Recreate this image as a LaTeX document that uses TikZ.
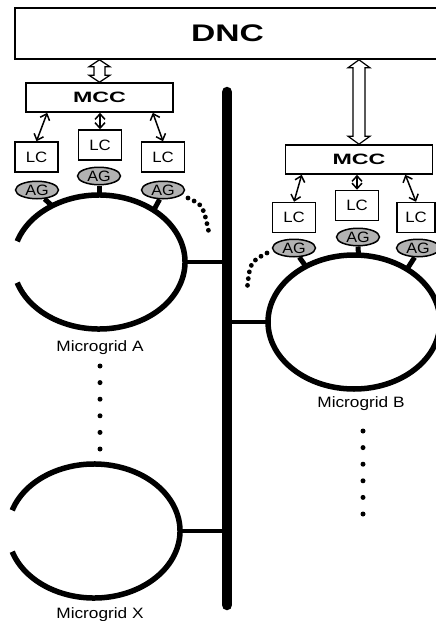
\documentclass[tikz,border=0pt]{standalone}
\usepackage{fontspec}
\setmainfont{Liberation Sans}
\usetikzlibrary{arrows.meta, shapes.geometric, calc}

\begin{document}
\begin{tikzpicture}[x=1pt, y=-1pt]
% cadre de l'image
\useasboundingbox (0,0) rectangle (436,621);
\clip (0,0) rectangle (436,621);

% définition des styles
\tikzstyle{grand}=[rectangle, draw=black, fill=white, line width=1.6pt, inner sep=0pt, font=\fontsize{24}{26}\selectfont\bfseries]
\tikzstyle{centrale}=[rectangle, draw=black, fill=white, line width=1.6pt, minimum width=147pt, minimum height=29pt, inner sep=0pt, font=\fontsize{15}{17}\selectfont\bfseries]
\tikzstyle{local}=[rectangle, draw=black, fill=white, line width=1.5pt, minimum width=43pt, minimum height=30pt, inner sep=0pt, font=\fontsize{15}{17}\selectfont]
\tikzstyle{agent}=[ellipse, draw=black, fill=black!30, line width=1.5pt, minimum width=43pt, minimum height=17.5pt, inner sep=0pt, font=\fontsize{15}{17}\selectfont]
\tikzstyle{nom}=[inner sep=0pt, anchor=base, font=\fontsize{15}{17}\selectfont]
\tikzstyle{lien}=[{Straight Barb[length=5.5pt, width=10pt]}-{Straight Barb[length=5.5pt, width=10pt]}, line width=1.5pt]
\tikzstyle{creux}=[draw=black, fill=white, line width=1.2pt, line join=miter]
\tikzstyle{bus}=[line width=10.5pt, line cap=round]
\tikzstyle{reseau}=[line width=5.5pt]
\tikzstyle{branche}=[line width=4pt]
\tikzstyle{pied}=[line width=5pt]
\tikzstyle{suite}=[line width=5pt, line cap=round, dash pattern=on 0pt off 16.6pt]
\tikzstyle{suitecourbe}=[line width=4.8pt, line cap=round, dash pattern=on 0pt off 6.8pt]

% les points de repère
\coordinate (cA) at (99,262);
\coordinate (cB) at (354,322);
\coordinate (cX) at (94,531);
\coordinate (bushaut) at (227,92);
\coordinate (busbas) at (227,605);

% les micro-réseaux
\draw[reseau] ($(cA)+(-162:86 and 67)$) arc[start angle=-162, end angle=162, x radius=86, y radius=67];
\draw[reseau] (cB) ellipse [x radius=86, y radius=67];
\draw[reseau] ($(cX)+(-162:86 and 67)$) arc[start angle=-162, end angle=162, x radius=86, y radius=67];

% le bus
\draw[branche] ($(cA)+(86,0)$) -- (cA -| bushaut);
\draw[branche] (cB -| bushaut) -- ($(cB)+(-86,0)$);
\draw[branche] ($(cX)+(86,0)$) -- (cX -| bushaut);
\draw[bus] (bushaut) -- (busbas);

% les nœuds
\node[grand, minimum width=425pt, minimum height=51pt] (DNC) at (227.5,33.5) {\scalebox{1.4}[1]{DNC}};
\node[centrale] (MCCA) at (99.5,97.5) {\scalebox{1.55}[1]{MCC}};
\node[centrale] (MCCB) at (359,159.5) {\scalebox{1.55}[1]{MCC}};

\node[local] (LCA1) at (36.5,157) {\scalebox{1.12}[1]{LC}};
\node[local] (LCA2) at (100,145) {\scalebox{1.12}[1]{LC}};
\node[local] (LCA3) at (163,157) {\scalebox{1.12}[1]{LC}};
\node[local] (LCB1) at (294,217.5) {\scalebox{1.12}[1]{LC}};
\node[local] (LCB2) at (357,205.5) {\scalebox{1.12}[1]{LC}};
\node[local, minimum width=38pt] (LCB3) at (416,217.5) {\scalebox{1.12}[1]{LC}};

\node[agent] (AGA1) at (37,190) {\scalebox{1.08}[1]{AG}};
\node[agent] (AGA2) at (99,176) {\scalebox{1.08}[1]{AG}};
\node[agent] (AGA3) at (163,190) {\scalebox{1.08}[1]{AG}};
\node[agent] (AGB1) at (294,248) {\scalebox{1.08}[1]{AG}};
\node[agent] (AGB2) at (358,237) {\scalebox{1.08}[1]{AG}};
\node[agent] (AGB3) at (418,248) {\scalebox{1.08}[1]{AG}};

\node[nom] (NA) at (100,351) {\scalebox{1.15}[1]{Microgrid A}};
\node[nom] (NB) at (361,407) {\scalebox{1.15}[1]{Microgrid B}};
\node[nom] (NX) at (100,618) {\scalebox{1.15}[1]{Microgrid X}};

% les pieds des agents
\draw[pied] (AGA1.-50) -- ($(cA)+(-123:86 and 67)$);
\draw[pied] (AGA2.south) -- ($(cA)+(-90:86 and 67)$);
\draw[pied] (AGA3.-110) -- ($(cA)+(-50.5:86 and 67)$);
\draw[pied] (AGB1.-60) -- ($(cB)+(-124:86 and 67)$);
\draw[pied] (AGB2.south) -- ($(cB)+(-87:86 and 67)$);
\draw[pied] (AGB3.-110) -- ($(cB)+(-52:86 and 67)$);

% les flèches creuses
\coordinate (hA1) at (DNC.south -| MCCA.north);
\coordinate (hA2) at (MCCA.north);
\draw[creux] ($(hA1)+(-5.5,7)$) -- ($(hA1)+(-10.5,7)$) -- (hA1) -- ($(hA1)+(10.5,7)$) -- ($(hA1)+(5.5,7)$)
  -- ($(hA2)+(5.5,-7)$) -- ($(hA2)+(10.5,-7)$) -- (hA2) -- ($(hA2)+(-10.5,-7)$) -- ($(hA2)+(-5.5,-7)$) -- cycle;
\coordinate (hB1) at (DNC.south -| MCCB.north);
\coordinate (hB2) at (MCCB.north);
\draw[creux] ($(hB1)+(-6,8)$) -- ($(hB1)+(-11,8)$) -- (hB1) -- ($(hB1)+(11,8)$) -- ($(hB1)+(6,8)$)
  -- ($(hB2)+(6,-8)$) -- ($(hB2)+(11,-8)$) -- (hB2) -- ($(hB2)+(-11,-8)$) -- ($(hB2)+(-6,-8)$) -- cycle;

% les flèches
\draw[lien] ($(MCCA.south west)+(22,0)$) -- (LCA1.north);
\draw[lien] (MCCA.south -| LCA2.north) -- (LCA2.north);
\draw[lien] ($(MCCA.south east)+(-21,0)$) -- (LCA3.north);
\draw[lien] ($(MCCB.south west)+(17,0)$) -- (LCB1.north);
\draw[lien] (MCCB.south -| LCB2.north) -- (LCB2.north);
\draw[lien] ($(MCCB.south east)+(-28,0)$) -- (LCB3.north);

% les pointillés
\draw[suitecourbe] (188,198) .. controls (203,205) .. (209,233);
\draw[suitecourbe] (267,253) .. controls (250,262) .. (247,290);
\draw[suite] (100,366) -- (100,449.5);
\draw[suite] (363,431) -- (363,514.5);
\end{tikzpicture}
\end{document}
